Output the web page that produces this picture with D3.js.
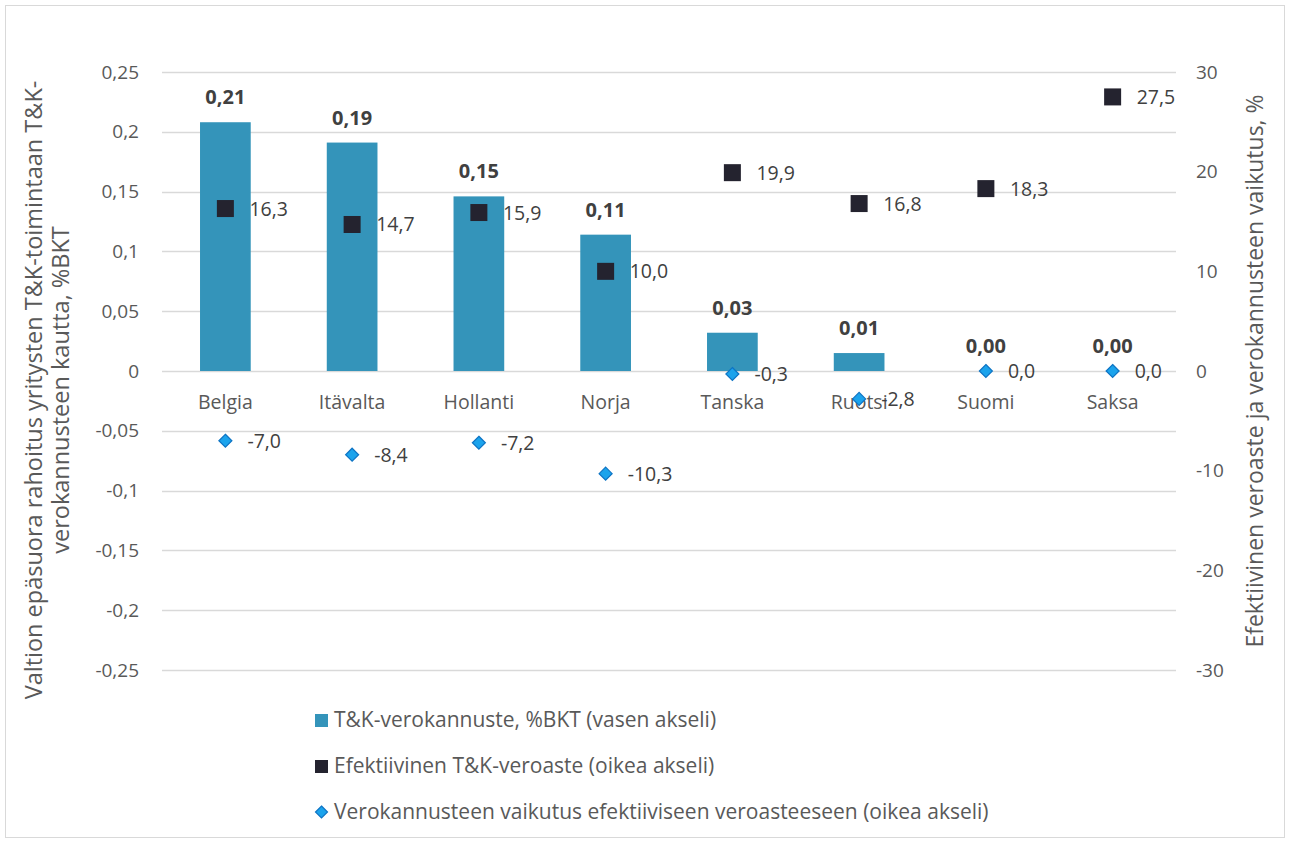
<!DOCTYPE html>
<html>
<head>
<meta charset="utf-8">
<script src="https://cdn.jsdelivr.net/npm/d3@7"></script>
<style>
  body { margin: 0; background: #fff; }
  text { font-family: "Open Sans", "Noto Sans", sans-serif; }
</style>
</head>
<body>
<svg id="chart" width="1290" height="843"></svg>
<script>
var countries = ['Belgia', 'Itävalta', 'Hollanti', 'Norja', 'Tanska', 'Ruotsi', 'Suomi', 'Saksa'];
var incentive = [0.208, 0.191, 0.146, 0.114, 0.032, 0.015, 0.0, 0.0];
var effRate = [16.3, 14.7, 15.9, 10.0, 19.9, 16.8, 18.3, 27.5];
var impact = [-7.0, -8.4, -7.2, -10.3, -0.3, -2.8, 0.0, 0.0];
var leftTicks = [-0.25, -0.2, -0.15, -0.1, -0.05, 0, 0.05, 0.1, 0.15, 0.2, 0.25];
var rightTicks = [-30, -20, -10, 0, 10, 20, 30];
var legendLabels = [
  'T&K-verokannuste, %BKT (vasen akseli)',
  'Efektiivinen T&K-veroaste (oikea akseli)',
  'Verokannusteen vaikutus efektiiviseen veroasteeseen (oikea akseli)'
];

var svg = d3.select('#chart');
var plot = { left: 162, right: 1176, top: 72, bottom: 670 };
var textCol = '#595959';
var barCol = '#3494BA';
var sqCol = '#24232F';
var diaFill = '#1BA3EC';
var diaStroke = '#0E74C4';

var fmt1 = function (v) { return d3.format('.1f')(v).replace('.', ',').replace('−', '-'); };
var fmt2 = function (v) { return d3.format('.2f')(v).replace('.', ','); };

// chart border
svg.append('rect')
  .attr('x', 5.5).attr('y', 5.5)
  .attr('width', 1279).attr('height', 832)
  .attr('fill', 'none').attr('stroke', '#d9d9d9');

var x = d3.scaleBand()
  .domain(countries)
  .range([plot.left, plot.right])
  .paddingInner(0.6).paddingOuter(0.3);
var xc = function (c) { return x(c) + x.bandwidth() / 2; };

var yL = d3.scaleLinear().domain([-0.25, 0.25]).range([plot.bottom, plot.top]);
var yR = d3.scaleLinear().domain([-30, 30]).range([plot.bottom, plot.top]);

// gridlines
svg.append('g').selectAll('line')
  .data(leftTicks)
  .enter().append('line')
  .attr('x1', plot.left).attr('x2', plot.right)
  .attr('y1', function (d) { return Math.round(yL(d)) + 0.5; })
  .attr('y2', function (d) { return Math.round(yL(d)) + 0.5; })
  .attr('stroke', '#d9d9d9').attr('stroke-width', 1.3);

// left axis
var axL = d3.axisLeft(yL).tickValues(leftTicks).tickSize(0).tickPadding(23)
  .tickFormat(function (d) { return d === 0 ? '0' : String(+d.toFixed(2)).replace('.', ','); });
var gL = svg.append('g').attr('transform', 'translate(' + plot.left + ',0)').call(axL);
gL.select('.domain').remove();
gL.selectAll('text').attr('fill', textCol).style('font-size', '19px').style('font-family', '"Open Sans", sans-serif');

// right axis
var axR = d3.axisRight(yR).tickValues(rightTicks).tickSize(0).tickPadding(20)
  .tickFormat(function (d) { return String(d); });
var gR = svg.append('g').attr('transform', 'translate(' + plot.right + ',0)').call(axR);
gR.select('.domain').remove();
gR.selectAll('text').attr('fill', textCol).style('font-size', '19px').style('font-family', '"Open Sans", sans-serif');

// bars
svg.append('g').selectAll('rect')
  .data(countries)
  .enter().append('rect')
  .attr('x', function (c) { return x(c); })
  .attr('width', x.bandwidth())
  .attr('y', function (c, i) { return yL(Math.max(0, incentive[i])); })
  .attr('height', function (c, i) { return Math.abs(yL(incentive[i]) - yL(0)); })
  .attr('fill', barCol);

// category labels
svg.append('g').selectAll('text')
  .data(countries)
  .enter().append('text')
  .attr('x', xc)
  .attr('y', yL(0) + 38)
  .attr('text-anchor', 'middle')
  .attr('fill', textCol)
  .style('font-size', '19.5px')
  .text(function (c) { return c; });

// bar labels
svg.append('g').selectAll('text')
  .data(countries)
  .enter().append('text')
  .attr('x', xc)
  .attr('y', function (c, i) { return yL(incentive[i]) - 18; })
  .attr('text-anchor', 'middle')
  .attr('fill', '#404040')
  .style('font-size', '20px')
  .style('font-weight', 'bold')
  .text(function (c, i) { return fmt2(incentive[i]); });

// diamonds
svg.append('g').selectAll('path')
  .data(countries)
  .enter().append('path')
  .attr('d', 'M0,-6.5L6.5,0L0,6.5L-6.5,0Z')
  .attr('transform', function (c, i) { return 'translate(' + xc(c) + ',' + yR(impact[i]) + ')'; })
  .attr('fill', diaFill).attr('stroke', diaStroke).attr('stroke-width', 1.2);

svg.append('g').selectAll('text')
  .data(countries)
  .enter().append('text')
  .attr('x', function (c) { return xc(c) + 22; })
  .attr('y', function (c, i) { return yR(impact[i]) + 7; })
  .attr('fill', '#404040')
  .style('font-size', '19.5px')
  .text(function (c, i) { return fmt1(impact[i]); });

// squares
svg.append('g').selectAll('rect')
  .data(countries)
  .enter().append('rect')
  .attr('x', function (c) { return xc(c) - 8.5; })
  .attr('y', function (c, i) { return yR(effRate[i]) - 8.5; })
  .attr('width', 17).attr('height', 17)
  .attr('fill', sqCol);

svg.append('g').selectAll('text')
  .data(countries)
  .enter().append('text')
  .attr('x', function (c) { return xc(c) + 24; })
  .attr('y', function (c, i) { return yR(effRate[i]) + 7; })
  .attr('fill', '#404040')
  .style('font-size', '19.5px')
  .text(function (c, i) { return fmt1(effRate[i]); });

// axis titles
var tL = svg.append('text')
  .attr('transform', 'translate(42,390) rotate(-90)')
  .attr('text-anchor', 'middle')
  .attr('fill', textCol)
  .style('font-size', '23.5px');
tL.append('tspan').attr('x', 0).attr('dy', 0).text('Valtion epäsuora rahoitus yritysten T&K-toimintaan T&K-');
tL.append('tspan').attr('x', 0).attr('dy', 27).text('verokannusteen kautta, %BKT');

svg.append('text')
  .attr('transform', 'translate(1263,' + yR(0) + ') rotate(-90)')
  .attr('text-anchor', 'middle')
  .attr('fill', textCol)
  .style('font-size', '23px')
  .text('Efektiivinen veroaste ja verokannusteen vaikutus, %');

// legend
var lg = svg.append('g').attr('transform', 'translate(315,720)');
var rows = lg.selectAll('g')
  .data(legendLabels)
  .enter().append('g')
  .attr('transform', function (d, i) { return 'translate(0,' + (i * 46) + ')'; });
rows.each(function (d, i) {
  var g = d3.select(this);
  if (i === 0) {
    g.append('rect').attr('x', 0).attr('y', -6).attr('width', 13).attr('height', 13).attr('fill', barCol);
  } else if (i === 1) {
    g.append('rect').attr('x', 0).attr('y', -6).attr('width', 13).attr('height', 13).attr('fill', sqCol);
  } else {
    g.append('path').attr('d', 'M6.5,-6L12.5,0L6.5,6L0.5,0Z')
      .attr('fill', diaFill).attr('stroke', diaStroke).attr('stroke-width', 1.2);
  }
  g.append('text').attr('x', 19).attr('y', 7)
    .attr('fill', textCol).style('font-size', '21px').text(d);
});
</script>
</body>
</html>
